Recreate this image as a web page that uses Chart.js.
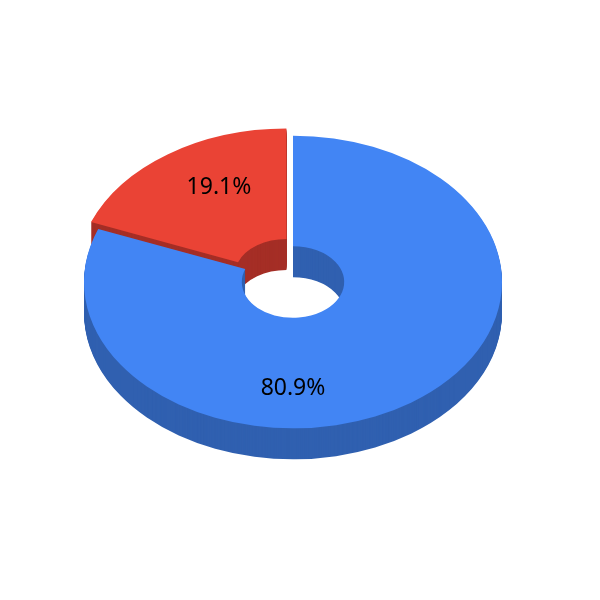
<!DOCTYPE html>
<html>
<head>
<meta charset="utf-8">
<style>html,body{margin:0;padding:0;background:#fff}canvas{display:block}</style>
<script src="https://cdn.jsdelivr.net/npm/chart.js@4"></script>
</head>
<body>
<canvas id="c" width="600" height="600"></canvas>
<script>
const categories = ['Blue share', 'Red share'];
const seriesValues = [80.9, 19.1];
const topColors = ['#4285f4', '#ea4335'];
const wallColors = ['#3060b0', '#a52e26'];
const explode = [0, 46];
// Label anchors: angle clockwise from 12 o'clock (degrees) and radius in the untilted plane
const labelPolar = [[180, 152], [331.4, 154.6]];

const TILT = 0.7, DEPTH = 31;

function withTilt(ctx, arc, dy, fn) {
  ctx.save();
  ctx.translate(arc.x, arc.y + dy);
  ctx.scale(1, TILT);
  ctx.translate(-arc.x, -arc.y);
  fn();
  ctx.restore();
}

function paint(ctx, arc, color, dy) {
  const saved = arc.options;
  arc.options = Object.assign({}, saved, { backgroundColor: color, borderColor: color });
  withTilt(ctx, arc, dy, () => arc.draw(ctx));
  arc.options = saved;
}

const tilted3d = {
  id: 'tilted3d',
  beforeDatasetDraw(chart) {
    const ctx = chart.ctx;
    const arcs = chart.getDatasetMeta(0).data;
    const order = [1, 0];
    order.forEach(i => {
      for (let d = DEPTH; d >= 1; d -= 1) paint(ctx, arcs[i], wallColors[i], d);
    });
    paint(ctx, arcs[0], topColors[0], 0);
    paint(ctx, arcs[1], topColors[1], 0);
    return false;
  },
  afterDatasetsDraw(chart) {
    const ctx = chart.ctx;
    const arcs = chart.getDatasetMeta(0).data;
    const total = seriesValues.reduce((a, b) => a + b, 0);
    ctx.save();
    ctx.fillStyle = '#000';
    ctx.font = '23px "Noto Sans"';
    ctx.textAlign = 'center';
    ctx.textBaseline = 'middle';
    arcs.forEach((arc, i) => {
      const a = labelPolar[i][0] * Math.PI / 180, r = labelPolar[i][1];
      const text = (seriesValues[i] / total * 100).toFixed(1) + '%';
      ctx.fillText(text, arc.x + r * Math.sin(a), arc.y - r * Math.cos(a) * TILT);
    });
    ctx.restore();
  }
};

new Chart(document.getElementById('c'), {
  type: 'doughnut',
  data: {
    labels: categories,
    datasets: [{
      data: seriesValues,
      backgroundColor: topColors,
      borderWidth: 0,
      offset: explode
    }]
  },
  options: {
    responsive: false,
    animation: false,
    devicePixelRatio: 1,
    radius: 209,
    cutout: '24.5%',
    layout: { padding: { left: 0, right: 14, top: 0, bottom: 36 } },
    plugins: { legend: { display: false }, tooltip: { enabled: false }, title: { display: false } }
  },
  plugins: [tilted3d]
});
</script>
</body>
</html>
